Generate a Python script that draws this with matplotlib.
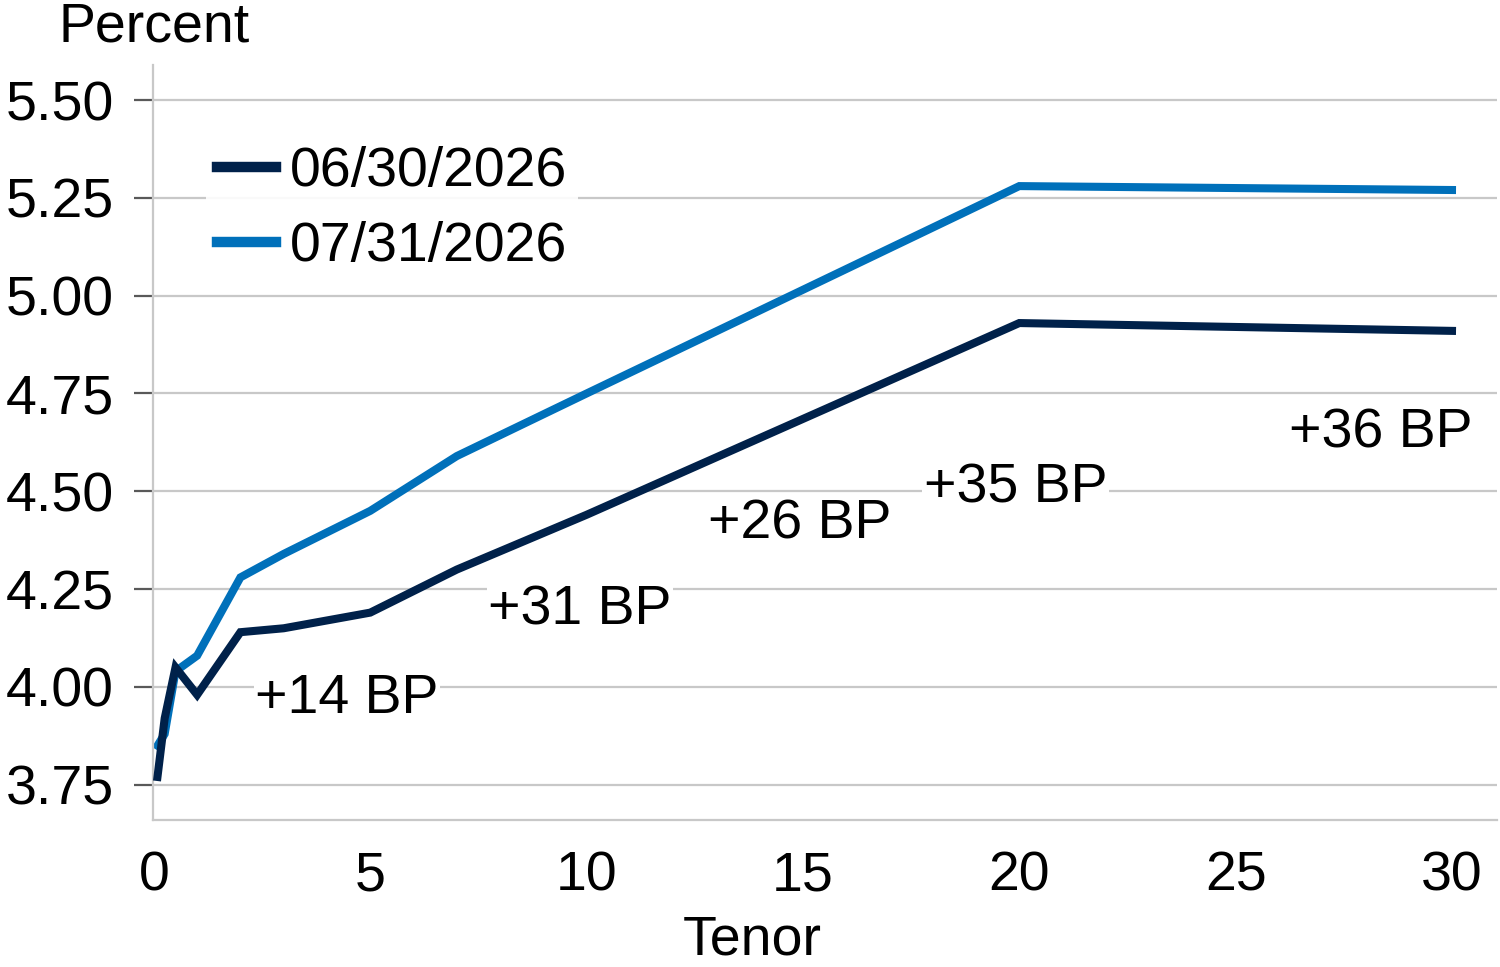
import matplotlib
matplotlib.use("Agg")
import matplotlib.pyplot as plt

plt.rcParams['font.family'] = ['Liberation Sans', 'DejaVu Sans']

# tenor in years
tenors = [1/12, 0.25, 0.5, 1, 2, 3, 5, 7, 10, 20, 30]
curve_jun = [3.77, 3.92, 4.05, 3.98, 4.14, 4.15, 4.19, 4.30, 4.44, 4.93, 4.91]
curve_jul = [3.85, 3.88, 4.04, 4.08, 4.28, 4.34, 4.45, 4.59, 4.75, 5.28, 5.27]
series_names = ['06/30/2026', '07/31/2026']

# change annotations and where they sit
change_labels = ['+14 BP', '+31 BP', '+26 BP', '+35 BP', '+36 BP']
label_x = [4.46, 9.85, 14.93, 19.92, 28.36]
label_y = [3.968, 4.195, 4.415, 4.507, 4.648]

yticks = [3.75, 4.00, 4.25, 4.50, 4.75, 5.00, 5.25, 5.50]
xticks = [0, 5, 10, 15, 20, 25, 30]

dark = '#00214A'
light = '#0070BA'
grid_c = '#C8C8C8'
fs = 40

fig = plt.figure(figsize=(15, 9.67), dpi=100)
ax = fig.add_axes([0.102, 0.152, 0.896, 0.781])

ax.plot(tenors, curve_jun, color=dark, lw=5.8, label=series_names[0], zorder=3,
        solid_joinstyle='miter')
ax.plot(tenors, curve_jul, color=light, lw=5.8, label=series_names[1], zorder=2,
        solid_joinstyle='miter')

ax.set_xlim(-0.02, 31.04)
ax.set_ylim(3.66, 5.59)
ax.set_yticks(yticks)
ax.set_yticklabels([f'{v:.2f}' for v in yticks])
ax.set_xticks(xticks)
ax.set_xticklabels([str(v) for v in xticks])

ax.grid(axis='y', color=grid_c, lw=1.6, zorder=0)
ax.set_axisbelow(True)
for s in ['top', 'right']:
    ax.spines[s].set_visible(False)
for s in ['left', 'bottom']:
    ax.spines[s].set_color(grid_c)
    ax.spines[s].set_linewidth(1.6)

ax.tick_params(axis='y', labelsize=fs, length=14, width=1.6, color='#595959', pad=14)
ax.tick_params(axis='x', labelsize=fs, length=0, pad=22)

for txt, x, y in zip(change_labels, label_x, label_y):
    ax.text(x, y, txt, fontsize=fs, ha='center', va='center', zorder=4,
            bbox=dict(facecolor='white', edgecolor='none', pad=1))

ax.set_xlabel('Tenor', fontsize=fs)
ax.xaxis.set_label_coords(0.446, -0.125)
fig.text(0.103, 0.972, 'Percent', fontsize=fs, ha='center', va='center')

leg = ax.legend(loc='upper left', bbox_to_anchor=(0.019, 0.944), fontsize=fs,
                frameon=True, handlelength=1.05, handletextpad=0.25,
                labelspacing=0.42, borderpad=0.2)
leg.get_frame().set_facecolor('white')
leg.get_frame().set_edgecolor('none')
leg.get_frame().set_alpha(0.9)
for h in leg.get_lines():
    h.set_linewidth(7.5)

fig.savefig('out.png', dpi=100)
